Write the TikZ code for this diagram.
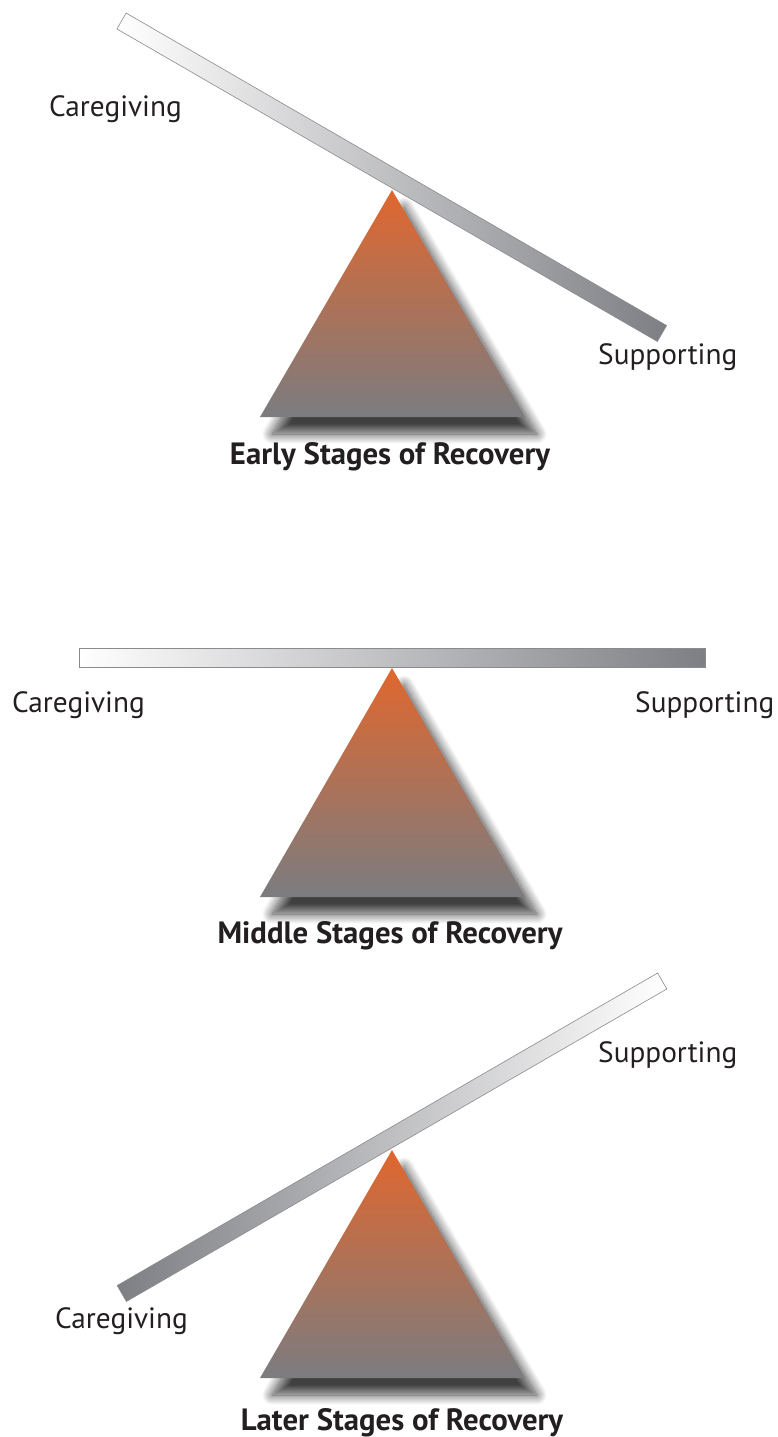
\documentclass[tikz,border=0pt]{standalone}
\usepackage{fontspec}
\setmainfont{PT Sans}
\usetikzlibrary{shadows.blur}
\definecolor{triTop}{HTML}{E0672E}
\definecolor{triBot}{HTML}{7B7C80}
\definecolor{barDark}{HTML}{7E7F84}
\definecolor{barEdge}{HTML}{8A8B8E}
\definecolor{ink}{HTML}{231F20}
\tikzset{
  lbl/.style={font=\fontsize{29.3}{33}\selectfont, text=ink, inner sep=0pt, anchor=base west},
  ttl/.style={font=\bfseries\fontsize{30.8}{34}\selectfont, text=ink, inner sep=0pt, anchor=base},
  tri/.style={top color=triTop, bottom color=triBot,
    blur shadow={shadow xshift=12pt, shadow yshift=-17pt, shadow blur steps=16,
      shadow blur radius=10pt, shadow opacity=75}},
  barA/.style={left color=white, right color=barDark, draw=barEdge, line width=0.6pt},
  barB/.style={left color=barDark, right color=white, draw=barEdge, line width=0.6pt},
}
\begin{document}
\begin{tikzpicture}[x=1pt,y=-1pt]
\useasboundingbox (0,0) rectangle (778,1437);
% ---------- Early ----------
\path[tri] (392,190) -- (525,417) -- (260,417) -- cycle;
\shade[barA, rotate around={-30.04:(391.75,177.25)}]
  (79.6,168.05) rectangle (703.9,186.45);
\node[lbl] (care1) at (49,116) {Caregiving};
\node[lbl] (supp1) at (598,364) {Supporting};
\node[ttl] (early) at (390,464) {Early Stages of Recovery};
% ---------- Middle ----------
\path[tri] (392,668) -- (525,897) -- (260,897) -- cycle;
\shade[barA] (79,648) rectangle (705,667);
\node[lbl] (care2) at (12,712) {Caregiving};
\node[lbl] (supp2) at (635,712) {Supporting};
\node[ttl] (middle) at (390,943) {Middle Stages of Recovery};
% ---------- Later ----------
\path[tri] (392,1150) -- (525,1378) -- (260,1378) -- cycle;
\shade[barB, rotate around={30.04:(392,1137.25)}]
  (79.85,1128.05) rectangle (704.15,1146.45);
\node[lbl] (supp3) at (598,1062) {Supporting};
\node[lbl] (care3) at (55,1328) {Caregiving};
\node[ttl] (later) at (402,1430) {Later Stages of Recovery};
\end{tikzpicture}
\end{document}
